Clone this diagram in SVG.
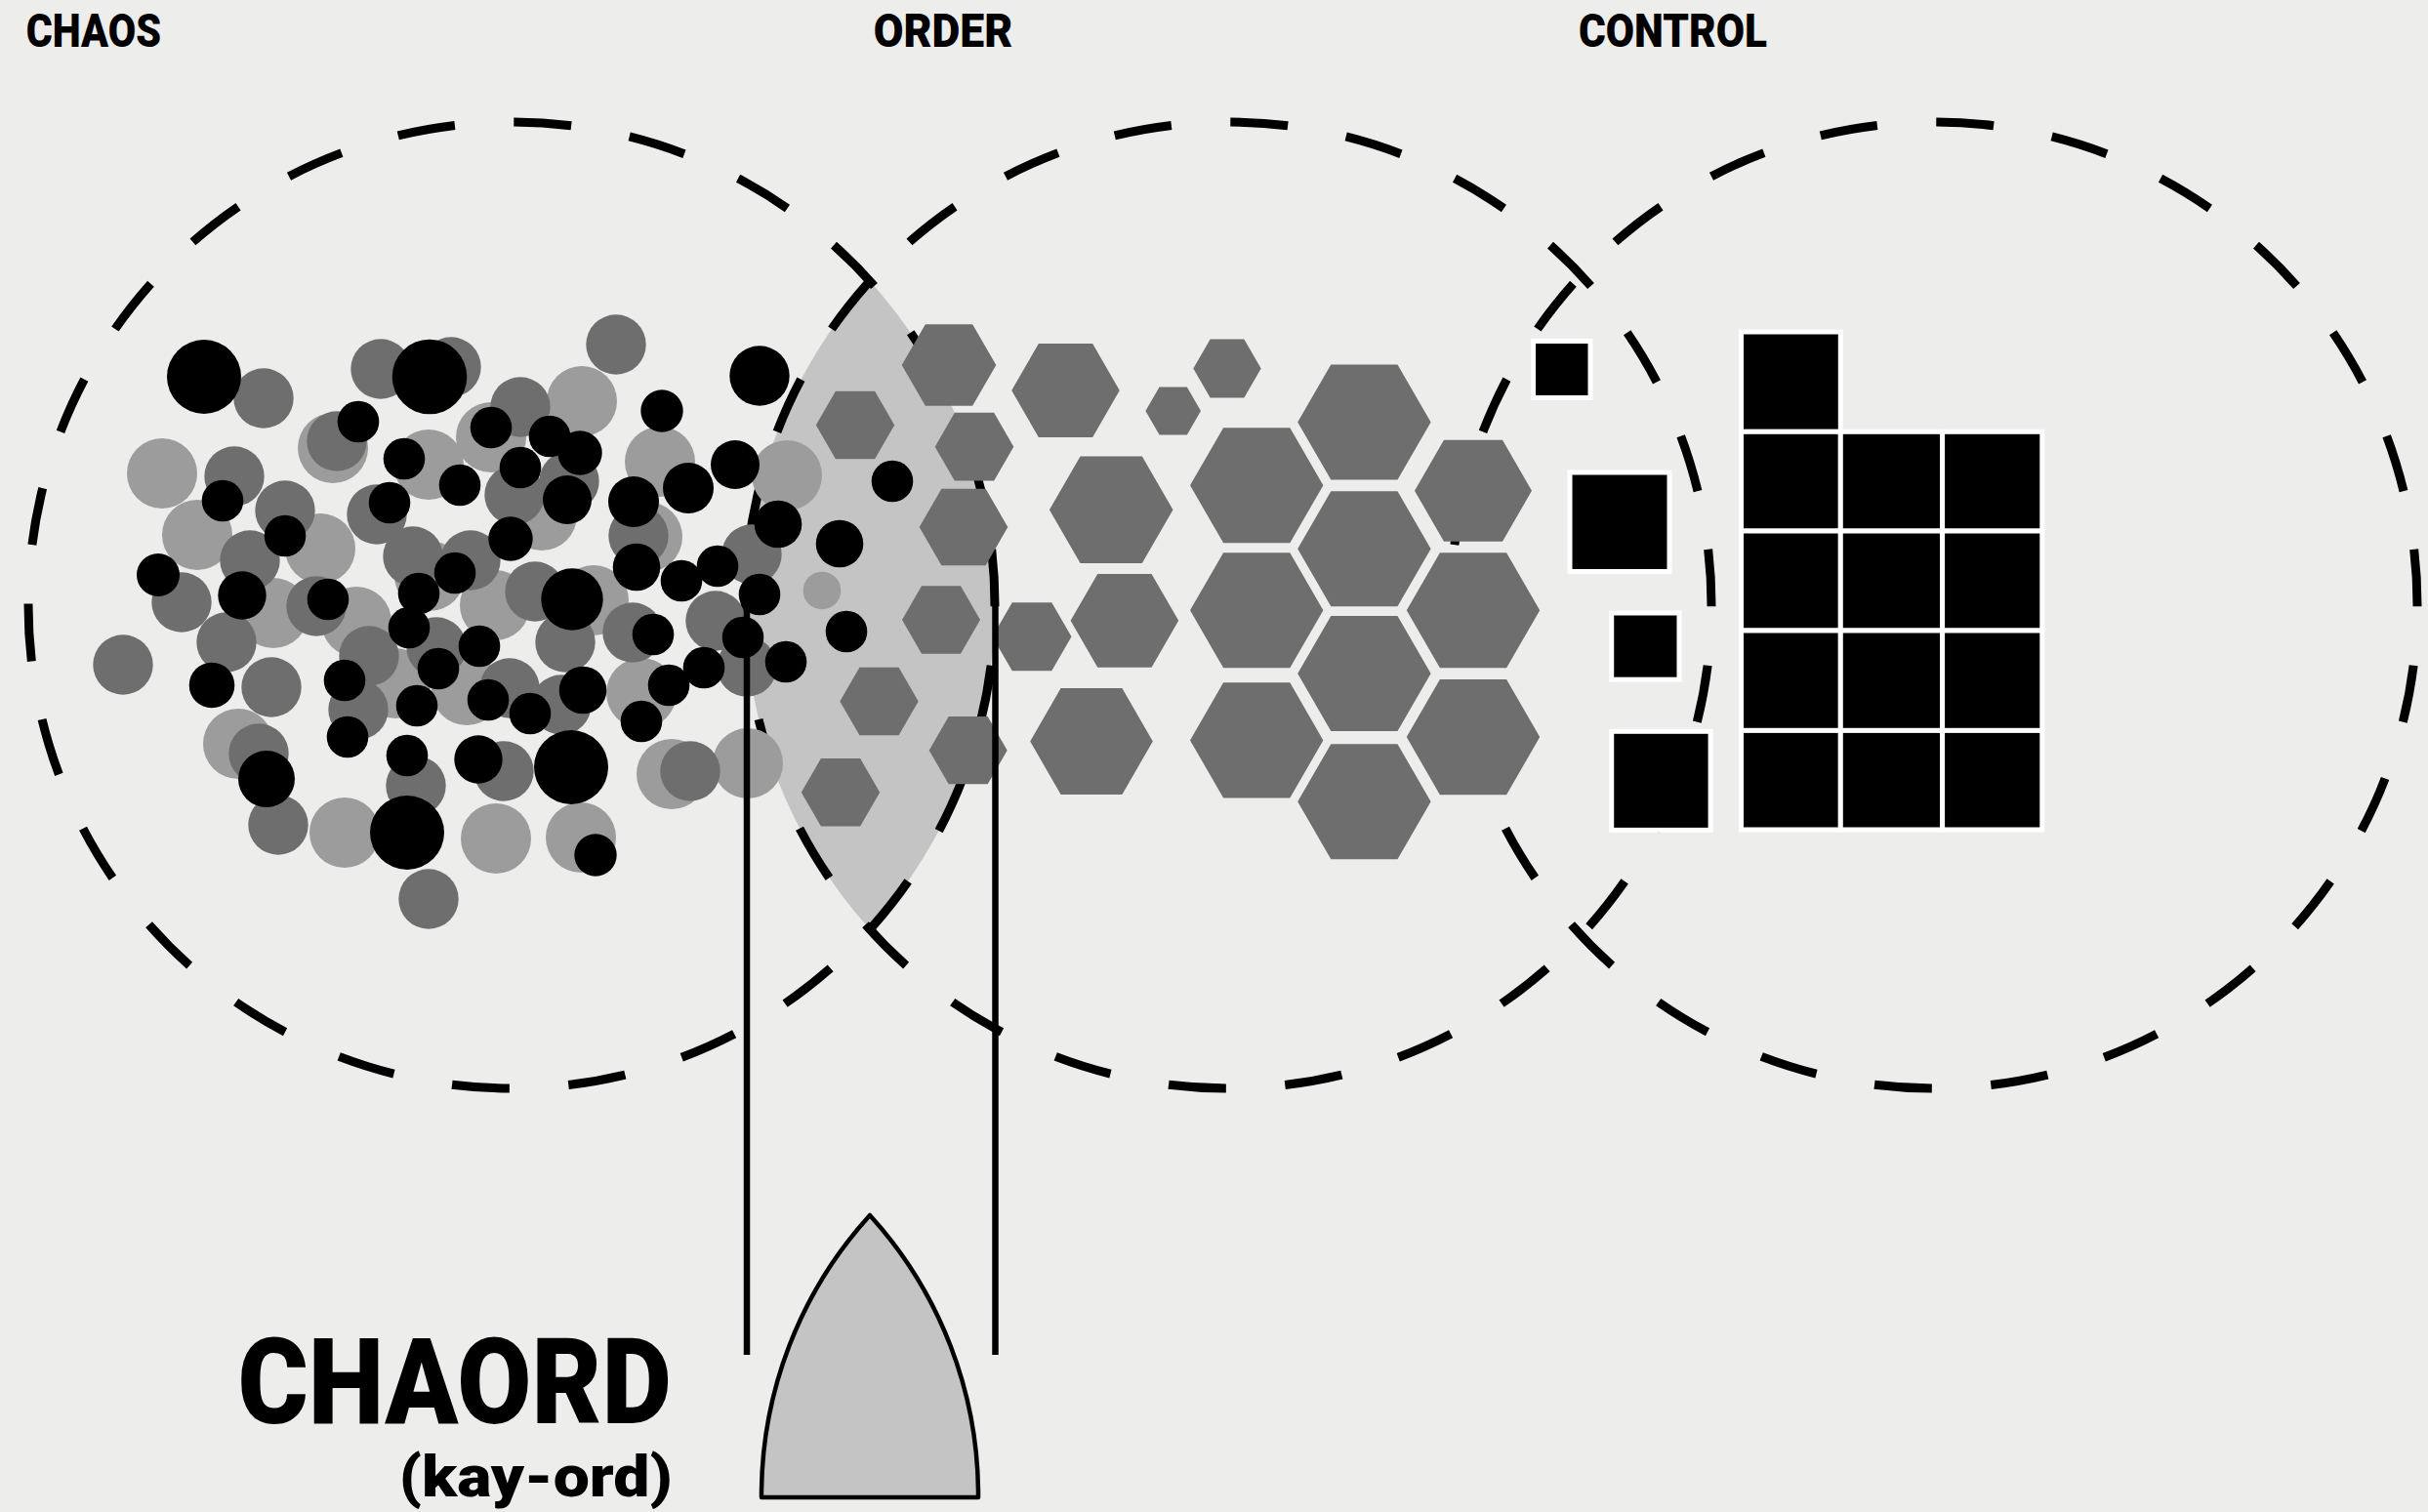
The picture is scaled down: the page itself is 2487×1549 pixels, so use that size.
<svg xmlns="http://www.w3.org/2000/svg" xmlns:xlink="http://www.w3.org/1999/xlink" width="2487" height="1549" viewBox="0 0 2487 1549">
<style>
.dc{fill:none;stroke:#000;stroke-width:9;stroke-dasharray:59 60.62;stroke-dashoffset:57.7}
.lg{fill:#9c9c9c}
.dg{fill:#6e6e6e}
.bk{fill:#000}
.sq{fill:#000;stroke:#fff;stroke-width:5}
.vl{stroke:#000;stroke-width:6.5}
.t{font-family:Roboto,"DejaVu Sans",sans-serif;font-weight:900;fill:#000}
</style>
<defs>
<polygon id="hx" points="1,0 0.5,0.866 -0.5,0.866 -1,0 -0.5,-0.866 0.5,-0.866" fill="#6e6e6e"/>
</defs>
<rect x="0" y="0" width="2487" height="1549" fill="#ededeb"/>
<g id="lens">
<path d="M 891 288 A 495 495 0 0 0 891 952 A 495 495 0 0 0 891 288 Z" fill="#c4c4c4"/>
</g>
<g id="rings">
<circle class="dc" cx="524" cy="620" r="495"/>
<circle class="dc" cx="1258" cy="620" r="495"/>
<circle class="dc" cx="1981" cy="620" r="495"/>
</g>
<g id="chaos">
<g class="lg">
<circle cx="166" cy="485" r="36"/><circle cx="341" cy="459" r="36"/><circle cx="439" cy="476" r="36"/><circle cx="503" cy="448" r="36"/>
<circle cx="202" cy="548" r="36"/><circle cx="328" cy="562" r="36"/><circle cx="440" cy="590" r="36"/><circle cx="280" cy="628" r="36"/>
<circle cx="365" cy="637" r="36"/><circle cx="596" cy="411" r="36"/><circle cx="676" cy="473" r="36"/><circle cx="806" cy="487" r="36"/>
<circle cx="663" cy="550" r="36"/><circle cx="608" cy="615" r="36"/><circle cx="842" cy="605" r="19.3"/><circle cx="244" cy="762" r="36"/>
<circle cx="353" cy="853" r="36"/><circle cx="508" cy="859" r="36"/><circle cx="405" cy="700" r="36"/><circle cx="478" cy="707" r="36"/>
<circle cx="657" cy="710" r="36"/><circle cx="688" cy="793" r="36"/><circle cx="766" cy="782" r="36"/><circle cx="595" cy="858" r="36"/>
<circle cx="555" cy="528" r="36"/><circle cx="507" cy="620" r="36"/>
</g>
<g class="dg">
<circle cx="270" cy="408" r="30.7"/><circle cx="390" cy="378" r="30.7"/><circle cx="462" cy="376" r="30.7"/><circle cx="240" cy="488" r="30.7"/>
<circle cx="345" cy="452" r="30.7"/><circle cx="292" cy="523" r="30.7"/><circle cx="386" cy="527" r="30.7"/><circle cx="423" cy="570" r="30.7"/>
<circle cx="482" cy="574" r="30.7"/><circle cx="186" cy="617" r="30.7"/><circle cx="256" cy="574" r="30.7"/><circle cx="324" cy="621" r="30.7"/>
<circle cx="232" cy="658" r="30.7"/><circle cx="126" cy="681" r="30.7"/><circle cx="631" cy="353" r="30.7"/><circle cx="533" cy="417" r="30.7"/>
<circle cx="583" cy="493" r="30.7"/><circle cx="527" cy="507" r="30.7"/><circle cx="654" cy="549" r="30.7"/><circle cx="770" cy="568" r="30.7"/>
<circle cx="548" cy="606" r="30.7"/><circle cx="648" cy="648" r="30.7"/><circle cx="733" cy="636" r="30.7"/><circle cx="278" cy="704" r="30.7"/>
<circle cx="265" cy="772" r="30.7"/><circle cx="285" cy="845" r="30.7"/><circle cx="439" cy="921" r="30.7"/><circle cx="367" cy="727" r="30.7"/>
<circle cx="378" cy="672" r="30.7"/><circle cx="447" cy="663" r="30.7"/><circle cx="426" cy="805" r="30.7"/><circle cx="516" cy="790" r="30.7"/>
<circle cx="579" cy="658" r="30.7"/><circle cx="765" cy="683" r="30.7"/><circle cx="575" cy="722" r="30.7"/><circle cx="522" cy="705" r="30.7"/>
<circle cx="707" cy="790" r="30.7"/>
</g>
<g class="bk">
<circle cx="209" cy="386" r="38"/><circle cx="440" cy="386" r="38.3"/><circle cx="228" cy="513" r="21.3"/><circle cx="367" cy="432" r="21.3"/>
<circle cx="414" cy="470" r="21.3"/><circle cx="471" cy="497" r="21.3"/><circle cx="503" cy="438" r="21.3"/><circle cx="292" cy="549" r="21.3"/>
<circle cx="399" cy="515" r="21.3"/><circle cx="466" cy="587" r="21.3"/><circle cx="429" cy="608" r="21.3"/><circle cx="162" cy="589" r="22"/>
<circle cx="248" cy="610" r="24.7"/><circle cx="336" cy="614" r="21.3"/><circle cx="419" cy="643" r="21.3"/><circle cx="491" cy="662" r="21.3"/>
<circle cx="563" cy="447" r="21.3"/><circle cx="594" cy="464" r="22.7"/><circle cx="533" cy="479" r="21.3"/><circle cx="581" cy="512" r="25"/>
<circle cx="523" cy="552" r="22.7"/><circle cx="678" cy="421" r="21.7"/><circle cx="649" cy="514" r="26"/><circle cx="705" cy="500" r="26"/>
<circle cx="778" cy="385" r="30.7"/><circle cx="753" cy="476" r="25"/><circle cx="914" cy="493" r="21.3"/><circle cx="797" cy="537" r="24.3"/>
<circle cx="652" cy="581" r="24.3"/><circle cx="698" cy="595" r="21.3"/><circle cx="735" cy="580" r="21.3"/><circle cx="778" cy="609" r="21.3"/>
<circle cx="860" cy="557" r="24.3"/><circle cx="867" cy="647" r="21.3"/><circle cx="586" cy="614" r="31.7"/><circle cx="669" cy="650" r="21.3"/>
<circle cx="761" cy="653" r="21.3"/><circle cx="217" cy="702" r="23.3"/><circle cx="273" cy="798" r="29"/><circle cx="417" cy="853" r="38"/>
<circle cx="353" cy="697" r="21.3"/><circle cx="356" cy="755" r="21.3"/><circle cx="449" cy="685" r="21.3"/><circle cx="427" cy="723" r="21.3"/>
<circle cx="500" cy="717" r="21.3"/><circle cx="417" cy="774" r="21.3"/><circle cx="490" cy="778" r="24.7"/><circle cx="805" cy="678" r="21.3"/>
<circle cx="721" cy="684" r="21.3"/><circle cx="685" cy="702" r="21.3"/><circle cx="597" cy="707" r="24.3"/><circle cx="543" cy="731" r="21.3"/>
<circle cx="657" cy="739" r="21.3"/><circle cx="585" cy="786" r="38"/><circle cx="610" cy="876" r="21.7"/>
</g>
</g>
<g id="order">
<use xlink:href="#hx" transform="translate(972 374) scale(48.3)"/>
<use xlink:href="#hx" transform="translate(876 435.5) scale(40.2)"/>
<use xlink:href="#hx" transform="translate(1091.5 400) scale(55.3)"/>
<use xlink:href="#hx" transform="translate(998 457.7) scale(40.3)"/>
<use xlink:href="#hx" transform="translate(1201.7 421) scale(28.3)"/>
<use xlink:href="#hx" transform="translate(1257 377.5) scale(34.7)"/>
<use xlink:href="#hx" transform="translate(1397.4 432.5) scale(68.2)"/>
<use xlink:href="#hx" transform="translate(987 540) scale(45.3)"/>
<use xlink:href="#hx" transform="translate(1138.2 522.3) scale(63.3)"/>
<use xlink:href="#hx" transform="translate(1287.2 497.2) scale(68.2)"/>
<use xlink:href="#hx" transform="translate(1509 502.8) scale(60)"/>
<use xlink:href="#hx" transform="translate(1397.4 562.3) scale(68.2)"/>
<use xlink:href="#hx" transform="translate(1287.2 625.2) scale(68.2)"/>
<use xlink:href="#hx" transform="translate(1509 625.2) scale(68.2)"/>
<use xlink:href="#hx" transform="translate(964 635) scale(40)"/>
<use xlink:href="#hx" transform="translate(1057 652.2) scale(40.5)"/>
<use xlink:href="#hx" transform="translate(1151.9 635.8) scale(55.3)"/>
<use xlink:href="#hx" transform="translate(1397.4 690) scale(68.2)"/>
<use xlink:href="#hx" transform="translate(900.5 718.5) scale(40.2)"/>
<use xlink:href="#hx" transform="translate(991.7 768.7) scale(40)"/>
<use xlink:href="#hx" transform="translate(1118 759.5) scale(62.8)"/>
<use xlink:href="#hx" transform="translate(1287.2 758.4) scale(68.2)"/>
<use xlink:href="#hx" transform="translate(1509 755.1) scale(68.2)"/>
<use xlink:href="#hx" transform="translate(861 811.7) scale(40.2)"/>
<use xlink:href="#hx" transform="translate(1397.4 821.3) scale(68.2)"/>
</g>
<g id="control">
<rect class="sq" x="1570.5" y="349.5" width="58.5" height="58"/>
<rect class="sq" x="1608" y="484" width="102" height="101.5"/>
<rect class="sq" x="1650.7" y="628" width="69.3" height="68.2"/>
<rect class="sq" x="1650.7" y="749.3" width="101.4" height="101.1"/>
<rect class="sq" x="1783.5" y="340" width="101.8" height="102.3"/>
<rect class="sq" x="1783.5" y="442.3" width="101.8" height="101.7"/>
<rect class="sq" x="1885.3" y="442.3" width="104.3" height="101.7"/>
<rect class="sq" x="1989.6" y="442.3" width="102.2" height="101.7"/>
<rect class="sq" x="1783.5" y="544" width="101.8" height="102"/>
<rect class="sq" x="1885.3" y="544" width="104.3" height="102"/>
<rect class="sq" x="1989.6" y="544" width="102.2" height="102"/>
<rect class="sq" x="1783.5" y="646" width="101.8" height="102.4"/>
<rect class="sq" x="1885.3" y="646" width="104.3" height="102.4"/>
<rect class="sq" x="1989.6" y="646" width="102.2" height="102.4"/>
<rect class="sq" x="1783.5" y="748.4" width="101.8" height="101.6"/>
<rect class="sq" x="1885.3" y="748.4" width="104.3" height="101.6"/>
<rect class="sq" x="1989.6" y="748.4" width="102.2" height="101.6"/>
</g>
<g id="connectors">
<line class="vl" x1="765" y1="620" x2="765" y2="1388"/>
<line class="vl" x1="1019.5" y1="620" x2="1019.5" y2="1388"/>
</g>
<g id="chaord-shape">
<path d="M 780 1534 A 426 426 0 0 1 891 1245 A 426 426 0 0 1 1002 1534 Z" fill="#c4c4c4" stroke="#000" stroke-width="4.5" stroke-linejoin="round"/>
</g>
<g id="labels">
<text class="t" x="26.7" y="48.3" font-size="48" textLength="138.3" lengthAdjust="spacingAndGlyphs">CHAOS</text>
<text class="t" x="894.7" y="48.3" font-size="48" textLength="142.5" lengthAdjust="spacingAndGlyphs">ORDER</text>
<text class="t" x="1617" y="48.3" font-size="48" textLength="193" lengthAdjust="spacingAndGlyphs">CONTROL</text>
<text class="t" x="243.4" y="1458" font-size="122" textLength="444.4" lengthAdjust="spacingAndGlyphs">CHAORD</text>
<text class="t" x="408.7" y="1533" font-size="60" textLength="280" lengthAdjust="spacingAndGlyphs">(kay-ord)</text>
</g>
</svg>
